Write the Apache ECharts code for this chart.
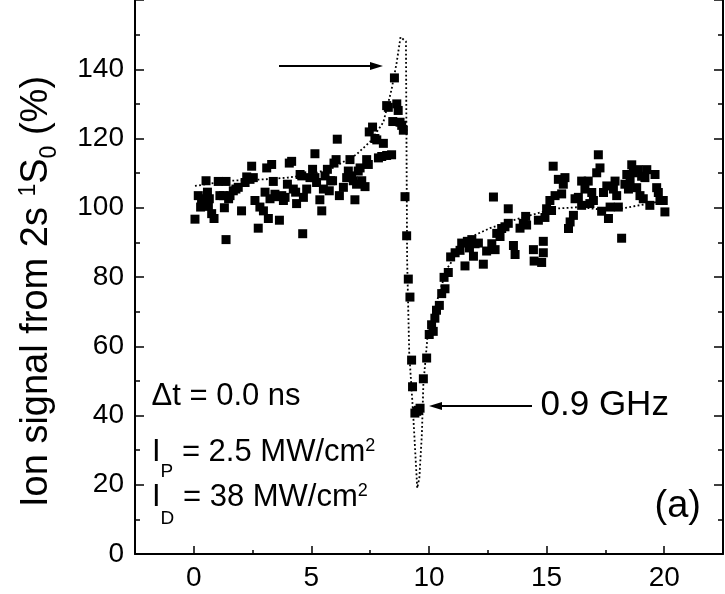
<!DOCTYPE html>
<html><head><meta charset="utf-8">
<script src="https://cdn.jsdelivr.net/npm/echarts@6/dist/echarts.min.js"></script>
<style>html,body{margin:0;padding:0;background:#fff;overflow:hidden}#c{width:725px;height:594px}</style>
</head><body><div id="c"></div><script>
// ---- data ----
const scanX = [0.05,0.19,0.29,0.33,0.52,0.58,0.62,0.66,0.76,0.86,1.04,1.11,1.26,1.30,1.37,1.37,1.48,1.54,1.68,1.79,1.89,2.03,2.18,2.25,2.39,2.46,2.53,2.60,2.74,2.81,2.96,3.03,3.10,3.17,3.24,3.31,3.38,3.45,3.52,3.64,3.74,3.81,3.88,3.98,4.06,4.16,4.23,4.33,4.37,4.52,4.59,4.63,4.66,4.80,4.94,5.05,5.15,5.15,5.22,5.36,5.44,5.51,5.58,5.68,5.76,5.82,5.90,5.96,6.05,6.10,6.19,6.36,6.50,6.57,6.64,6.71,6.78,6.85,6.92,6.99,7.07,7.14,7.28,7.35,7.42,7.46,7.60,7.70,7.78,7.85,7.99,8.06,8.20,8.20,8.27,8.41,8.46,8.53,8.63,8.69,8.77,8.84,8.91,8.98,9.05,9.12,9.19,9.26,9.30,9.40,9.48,9.55,9.62,9.76,9.90,10.01,10.11,10.18,10.25,10.32,10.44,10.54,10.64,10.68,10.82,10.92,11.11,11.32,11.39,11.53,11.63,11.72,11.82,11.89,11.96,12.10,12.31,12.45,12.67,12.74,12.81,12.88,13.02,13.09,13.23,13.37,13.37,13.59,13.66,13.87,14.01,14.11,14.15,14.44,14.47,14.65,14.79,14.86,14.86,14.93,15.00,15.14,15.21,15.28,15.36,15.50,15.64,15.71,15.78,15.93,16.00,16.14,16.21,16.35,16.49,16.49,16.63,16.77,16.84,16.92,16.99,17.13,17.20,17.27,17.34,17.42,17.56,17.63,17.70,17.84,17.91,17.98,18.05,18.19,18.33,18.41,18.48,18.55,18.62,18.69,18.83,18.90,18.97,19.04,19.11,19.18,19.26,19.39,19.61,19.68,19.75,19.82,19.96,20.03];
const scanY = [96.7,103.5,100.2,102.6,107.8,104.5,100.4,102.6,98.3,96.9,107.6,103.5,103.5,100.0,107.6,90.8,102.6,103.5,104.9,105.4,105.9,99.1,107.3,108.9,108.2,112.0,108.7,102.1,94.1,100.2,99.1,104.5,111.5,96.9,102.6,112.5,107.6,103.9,103.2,96.4,103.5,102.1,103.0,106.8,112.9,113.4,105.4,104.5,101.2,109.6,109.2,92.5,103.0,105.4,108.7,111.1,115.6,108.7,107.3,102.3,99.1,105.4,109.2,111.1,104.9,107.8,107.8,112.9,113.9,119.8,103.5,105.9,108.7,110.6,113.9,109.2,107.8,102.3,106.8,110.6,111.5,107.8,106.1,113.9,112.5,121.9,123.3,120.0,119.6,114.4,114.8,118.6,129.5,115.1,129.0,115.3,124.9,137.5,130.0,128.1,124.7,123.8,122.4,103.2,91.9,79.4,74.2,56.0,48.3,40.7,41.2,41.5,42.1,50.6,56.6,63.4,66.2,64.3,68.1,70.4,71.8,75.2,79.9,76.6,81.3,85.8,87.0,87.7,89.8,83.2,90.3,88.4,90.8,86.0,89.6,89.8,83.7,87.5,89.6,103.1,87.9,92.6,91.7,94.0,94.5,95.5,99.7,89.1,86.5,94.1,95.5,97.5,95.0,87.9,84.6,96.4,84.2,90.3,87.0,97.2,99.7,102.1,99.2,112.0,103.5,108.2,104.0,106.8,108.7,94.0,95.9,97.8,102.6,103.0,100.7,107.7,105.4,107.7,101.2,104.4,102.1,110.1,115.3,111.5,99.0,104.4,106.3,96.9,100.2,105.4,107.7,103.5,100.2,91.2,106.8,109.6,105.4,107.7,112.4,110.1,105.8,111.0,103.5,109.1,102.6,108.7,111.0,100.7,109.6,105.8,104.4,102.1,102.1,98.8];
const fitX = [0.05,1.5,3.0,4.0,5.0,5.9,6.9,7.5,8.06,8.41,8.62,8.79,9.02,9.07,9.16,9.33,9.5,9.59,9.7,9.76,9.94,10.33,10.75,11.32,11.82,12.59,13.59,14.3,15.29,16.41,17.27,18.12,19.25,19.96];
const fitY = [106.3,107.8,108.2,108.7,109.7,111.5,115.3,119.1,124.7,134.2,141.7,149.3,148,85,58,40,19,22,35,49,63,72.8,82.3,87.9,91.7,94.1,96.4,97.8,99.7,100.2,99.5,99.7,101.1,102];
const xTickLabels = [0, 5, 10, 15, 20];
const yTickLabels = [0, 20, 40, 60, 80, 100, 120, 140];

// ---- layout ----
const FONT = '"Liberation Sans", Arial, Helvetica, sans-serif';
const GL = 135, GW = 588, GTOP = -11, GBOT = 40;
const XMIN = -2.5, XMAX = 22.5;
const ppu = GW / (XMAX - XMIN);
const g2Left = GL + (xTickLabels[0] - XMIN) * ppu;
const g2W = (xTickLabels[xTickLabels.length - 1] - xTickLabels[0]) * ppu;

const mctx = document.createElement('canvas').getContext('2d');
function tw(t, s) { mctx.font = s + 'px ' + FONT; return mctx.measureText(t).width; }
function textLine(parts, x0, baseY) {
  let x = x0; const out = [];
  for (const [t, s, sh] of parts) {
    out.push({ type: 'text', x: x, y: baseY + sh - 0.3465 * s, silent: true,
      style: { text: t, fontSize: s, fontFamily: FONT, fill: '#000', align: 'left', verticalAlign: 'middle' } });
    x += tw(t, s);
  }
  return out;
}

const chart = echarts.init(document.getElementById('c'), null, { renderer: 'canvas' });
const tickStyle = { color: '#000', width: 1.5 };
const yAxisBase = {
  type: 'value', min: 0, max: 160, interval: 20,
  axisLine: { show: true, onZero: false, lineStyle: { color: '#000', width: 2 } },
  axisTick: { show: true, inside: true, length: 9, lineStyle: tickStyle },
  minorTick: { show: true, splitNumber: 2, length: 5, lineStyle: tickStyle },
  splitLine: { show: false }, minorSplitLine: { show: false }
};

const graphics = [].concat(
  [{ type: 'group', x: 50, y: 507, rotation: Math.PI / 2,
     children: textLine([['Ion signal from 2s ', 38, 0], ['1', 23, -13], ['S', 38, 0], ['0', 23, 8], [' (%)', 38, 0]], 0, 0) }],
  textLine([['\u0394t = 0.0 ns', 31, 0]], 151.5, 407),
  textLine([['I', 31, 0], ['P', 19, 15], [' = 2.5 MW/cm', 31, 0], ['2', 18, -11]], 152, 463),
  textLine([['I', 31, 0], ['D', 19, 17], [' = 38 MW/cm', 31, 0], ['2', 18, -11]], 152, 508),
  textLine([['0.9 GHz', 35, 0]], 540.5, 417),
  textLine([['(a)', 38, 0]], 654.5, 520),
  [
    { type: 'line', silent: true, shape: { x1: 279, y1: 66, x2: 372, y2: 66 }, style: { stroke: '#000', lineWidth: 2 } },
    { type: 'polygon', silent: true, shape: { points: [[370, 62], [383, 66], [370, 70]] }, style: { fill: '#000' } },
    { type: 'line', silent: true, shape: { x1: 532, y1: 406, x2: 440, y2: 406 }, style: { stroke: '#000', lineWidth: 2 } },
    { type: 'polygon', silent: true, shape: { points: [[442, 402], [429, 406], [442, 410]] }, style: { fill: '#000' } }
  ]
);

chart.setOption({
  animation: false,
  backgroundColor: '#fff',
  grid: [
    { left: GL, width: GW, top: GTOP, bottom: GBOT },
    { left: g2Left, width: g2W, top: GTOP, bottom: GBOT }
  ],
  xAxis: [
    { type: 'value', gridIndex: 0, min: XMIN, max: XMAX, interval: 2.5,
      axisLine: { show: true, onZero: false, lineStyle: { color: '#000', width: 2 } },
      axisTick: { show: false }, axisLabel: { show: false }, splitLine: { show: false } },
    { type: 'value', gridIndex: 1, min: xTickLabels[0], max: xTickLabels[xTickLabels.length - 1], interval: 5,
      axisLine: { show: false, onZero: false },
      axisTick: { show: true, inside: true, length: 8, lineStyle: tickStyle },
      minorTick: { show: true, splitNumber: 2, length: 4, lineStyle: tickStyle },
      splitLine: { show: false }, minorSplitLine: { show: false },
      axisLabel: { show: true, margin: 10, color: '#000', fontSize: 28, fontFamily: FONT,
        formatter: v => xTickLabels.includes(v) ? String(v) : '' } }
  ],
  yAxis: [
    Object.assign({}, yAxisBase, { gridIndex: 0, position: 'left',
      axisLabel: { show: true, margin: 11, color: '#000', fontSize: 28, fontFamily: FONT,
        formatter: v => yTickLabels.includes(v) ? String(v) : '' } }),
    Object.assign({}, yAxisBase, { gridIndex: 0, position: 'right', axisLabel: { show: false } }),
    { type: 'value', gridIndex: 1, min: 0, max: 160, show: false }
  ],
  series: [
    { type: 'line', xAxisIndex: 0, yAxisIndex: 0, data: fitX.map((x, i) => [x, fitY[i]]),
      showSymbol: false, symbol: 'none', smooth: false, z: 2,
      lineStyle: { color: '#000', width: 1.8, type: [1.8, 2.4] } },
    { type: 'scatter', xAxisIndex: 0, yAxisIndex: 0, data: scanX.map((x, i) => [x, scanY[i]]),
      symbol: 'rect', symbolSize: 9, z: 3, itemStyle: { color: '#000', opacity: 1 } }
  ],
  graphic: graphics
});
</script></body></html>
